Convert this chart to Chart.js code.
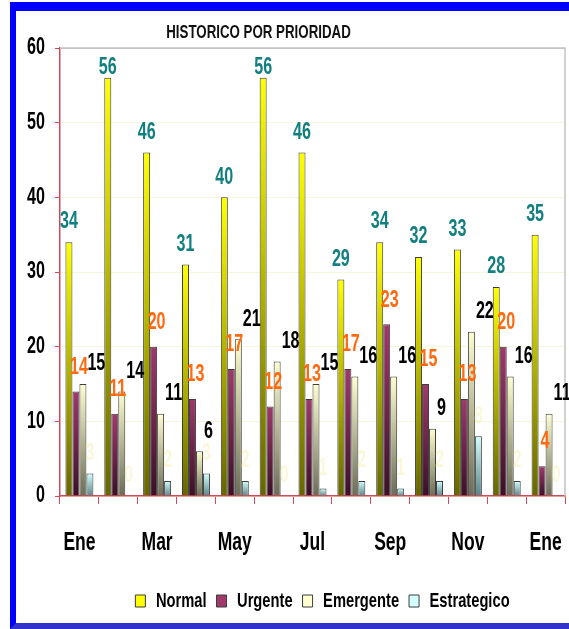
<!DOCTYPE html>
<html>
<head>
<meta charset="utf-8">
<script src="https://cdn.jsdelivr.net/npm/chart.js@4/dist/chart.umd.min.js"></script>
<style>
  html, body { margin: 0; padding: 0; background: #fff; }
  body { width: 569px; height: 629px; position: relative; overflow: hidden; }
  #marco {
    position: absolute; left: 10px; top: 2px; width: 620px; height: 627px;
    box-sizing: border-box;
    border-top: 9px solid #0000ff; border-left: 6px solid #0000ff; border-bottom: 6px solid #3333cc;
  }
  #grafico { position: absolute; left: 0; top: 0; }
</style>
</head>
<body>
<div id="marco"></div>
<canvas id="grafico" width="569" height="629"></canvas>
<script>
const meses = ['Ene', 'Feb', 'Mar', 'Abr', 'May', 'Jun', 'Jul', 'Ago', 'Sep', 'Oct', 'Nov', 'Dic', 'Ene']
const normal = [34, 56, 46, 31, 40, 56, 46, 29, 34, 32, 33, 28, 35]
const urgente = [14, 11, 20, 13, 17, 12, 13, 17, 23, 15, 13, 20, 4]
const emergente = [15, 14, 11, 6, 21, 18, 15, 16, 16, 9, 22, 16, 11]
const estrategico = [3, 0, 2, 3, 2, 0, 1, 2, 1, 2, 8, 2, 0]
const series = ['Normal', 'Urgente', 'Emergente', 'Estrategico']

const FUENTE = "'Liberation Sans', Arial, sans-serif"
const ROJO = '#d24a5a'
const ESTRECHO = 0.7

// color de arriba / color de abajo de cada barra
const tonos = [
  ['#ffff00', '#666600'],
  ['#a03a6c', '#3a1026'],
  ['#ffffd0', '#6c6c58'],
  ['#d4ffff', '#5c8484']
]
const colorEtiqueta = ['#128080', '#ff6a10', '#000000', 'rgba(245,235,160,0.4)']

// texto estrecho: se escala en horizontal alrededor del punto de anclaje
const canvas = document.getElementById('grafico')
const ctx = canvas.getContext('2d')
const escribir = ctx.fillText.bind(ctx)
const medir = ctx.measureText.bind(ctx)
ctx.fillText = (t, x, y) => {
  ctx.save()
  ctx.translate(x, y)
  ctx.scale(ESTRECHO, 1)
  escribir(t, 0, 0)
  ctx.restore()
}
ctx.measureText = (t) => {
  const m = medir(t)
  return { width: m.width * ESTRECHO, actualBoundingBoxAscent: m.actualBoundingBoxAscent, actualBoundingBoxDescent: m.actualBoundingBoxDescent }
}

const degradado = (i) => (c) => {
  const y = c.chart.scales.y
  if (c.type !== 'data' || !y) return tonos[i][0]
  const arriba = y.getPixelForValue(c.raw)
  const base = y.getPixelForValue(0)
  if (!isFinite(arriba) || base - arriba < 1) return tonos[i][1]
  const g = c.chart.ctx.createLinearGradient(0, arriba, 0, base)
  g.addColorStop(0, tonos[i][0])
  g.addColorStop(1, tonos[i][1])
  return g
}

// marco gris del area de trazado y numeros sobre las barras
const extras = {
  id: 'extras',
  afterLayout(chart) {
    chart.titleBlock.left -= 24
    chart.titleBlock.right -= 24
    chart.legend.left += 40
    chart.legend.right += 40
  },
  beforeDatasetsDraw(chart) {
    const {ctx, chartArea: a} = chart
    ctx.save()
    ctx.strokeStyle = '#c4c4c4'
    ctx.lineWidth = 1.5
    ctx.beginPath()
    ctx.moveTo(a.left, a.top)
    ctx.lineTo(a.right, a.top)
    ctx.lineTo(a.right, a.bottom)
    ctx.stroke()
    ctx.restore()
  },
  afterDatasetsDraw(chart) {
    const {ctx, chartArea: a} = chart
    ctx.save()
    ctx.font = 'bold 23px ' + FUENTE
    ctx.textBaseline = 'middle'
    chart.data.datasets.forEach((ds, i) => {
      chart.getDatasetMeta(i).data.forEach((barra, j) => {
        const p = barra.getProps(['x', 'y', 'width'], true)
        let x = p.x
        let y = p.y - 20
        ctx.textAlign = 'center'
        if (i === 0) y = Math.max(y, a.top + 20)
        if (i === 1) { x += 3; y = p.y - 24 }
        if (i === 2) { x = p.x + p.width / 2 + 1; ctx.textAlign = 'left' }
        ctx.fillStyle = colorEtiqueta[i]
        ctx.fillText(String(ds.data[j]), x, y)
      })
    })
    ctx.restore()
  }
}

Chart.defaults.font.family = FUENTE
Chart.defaults.color = '#000'

new Chart(canvas, {
  type: 'bar',
  data: {
    labels: meses,
    datasets: [normal, urgente, emergente, estrategico].map((d, i) => ({
      label: series[i],
      data: d,
      backgroundColor: degradado(i),
      borderColor: '#3c3c3c',
      borderWidth: 1,
      borderSkipped: 'start',
      categoryPercentage: 0.72,
      barPercentage: 1
    }))
  },
  options: {
    responsive: false,
    animation: false,
    layout: { padding: { left: 0, right: 4, top: 12, bottom: 7.5 } },
    plugins: {
      title: {
        display: true,
        text: 'HISTORICO POR PRIORIDAD',
        color: '#111',
        font: { size: 19, weight: 'bold' },
        padding: { top: 9.6, bottom: 3.6 }
      },
      legend: {
        position: 'bottom',
        labels: {
          boxWidth: 10,
          boxHeight: 12,
          padding: 10,
          color: '#000',
          font: { size: 21, weight: 'bold' },
          generateLabels: (chart) => chart.data.datasets.map((ds, i) => ({
            text: ds.label,
            fillStyle: tonos[i][0],
            strokeStyle: '#3c3c3c',
            lineWidth: 1,
            datasetIndex: i,
            hidden: false
          }))
        }
      },
      tooltip: { enabled: false }
    },
    scales: {
      x: {
        grid: { offset: true, drawOnChartArea: false, tickLength: 8, color: ROJO, tickColor: ROJO },
        border: { color: ROJO, width: 1.5 },
        ticks: {
          autoSkip: false,
          maxRotation: 0,
          padding: 24,
          font: { size: 25, weight: 'bold' },
          callback: function (v, i) { return i % 2 === 0 ? this.getLabelForValue(v) : '' }
        },
        afterFit: (s) => {
          s.height = 84.5
          s.paddingLeft = 0
          s.paddingRight = 0
        }
      },
      y: {
        min: 0,
        max: 60,
        grid: {
          tickLength: 5,
          tickColor: ROJO,
          color: (c) => c.tick && c.tick.value === 60 ? '#c4c4c4' : '#f6f6dc'
        },
        border: { color: ROJO, width: 1.5 },
        ticks: { stepSize: 10, padding: 10, font: { size: 23, weight: 'bold' } },
        afterFit: (s) => { s.width = 60 }
      }
    }
  },
  plugins: [extras]
})
</script>
</body>
</html>
